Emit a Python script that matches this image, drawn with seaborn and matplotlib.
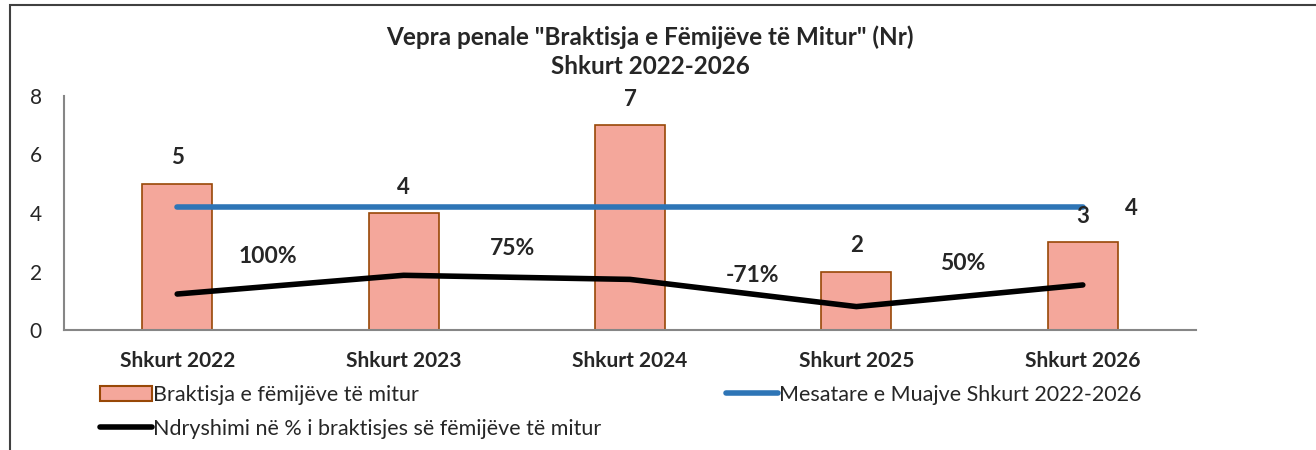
import numpy as np
import matplotlib
matplotlib.use("Agg")
import matplotlib.pyplot as plt
import seaborn as sns
from matplotlib.patches import Patch, Rectangle
from matplotlib.lines import Line2D

# data
categories = ["Shkurt 2022", "Shkurt 2023", "Shkurt 2024", "Shkurt 2025", "Shkurt 2026"]
cases = [5, 4, 7, 2, 3]
monthly_mean = [4.2, 4.2, 4.2, 4.2, 4.2]
change_line = [1.23, 1.87, 1.73, 0.80, 1.54]
change_labels = ["100%", "75%", "-71%", "50%"]
change_label_x = [0.40, 1.48, 2.54, 3.47]
change_label_y = [2.50, 2.77, 1.85, 2.29]

bar_fill = "#F4A79B"
bar_edge = "#984807"
mean_color = "#2E75B6"

sns.set_style("white")
plt.rcParams["font.family"] = ["Lato", "DejaVu Sans"]

fig = plt.figure(figsize=(13.16, 4.5), dpi=100)
ax = fig.add_axes([64 / 1316, 1 - 330 / 450, (1196 - 64) / 1316, (330 - 96) / 450])

x = np.arange(len(categories))
sns.barplot(x=x, y=cases, ax=ax, color=bar_fill, width=0.31,
            edgecolor=bar_edge, linewidth=1.2, saturation=1)
sns.lineplot(x=x, y=monthly_mean, ax=ax, color=mean_color, linewidth=4)
sns.lineplot(x=x, y=change_line, ax=ax, color="black", linewidth=4)

# value labels on bars
ax.bar_label(ax.containers[0], labels=[str(v) for v in cases], padding=11,
             fontsize=16, fontweight="bold")
ax.annotate(f"{monthly_mean[-1]:.0f}", (x[-1], monthly_mean[-1]), xytext=(35, -1),
            textcoords="offset points", ha="center", va="center",
            fontsize=16, fontweight="bold")
for lx, ly, txt in zip(change_label_x, change_label_y, change_labels):
    ax.text(lx, ly, txt, ha="center", va="center", fontsize=16.5, fontweight="bold")

ax.set_xlim(-0.5, len(categories) - 0.5)
ax.set_ylim(0, 8)
ax.set_yticks([0, 2, 4, 6, 8])
ax.set_xticks(x)
ax.set_xticklabels(categories, fontweight="bold", fontsize=15)
ax.set_xticks(np.arange(-0.5, len(categories)), minor=True)
ax.tick_params(axis="x", which="major", length=0, pad=15)
ax.tick_params(axis="x", which="minor", length=6, color="#868686", width=1.2, direction="out")
ax.tick_params(axis="y", length=6, color="#868686", width=1.2, direction="out", pad=10,
               labelsize=15)
for side in ["top", "right"]:
    ax.spines[side].set_visible(False)
for side in ["left", "bottom"]:
    ax.spines[side].set_color("#868686")
    ax.spines[side].set_linewidth(1.5)
ax.set_xlabel("")
ax.set_ylabel("")

fig.text(650 / 1316, 1 - 37 / 450, 'Vepra penale "Braktisja e Fëmijëve të Mitur" (Nr)',
         ha="center", va="center", fontsize=17.5, fontweight="bold")
fig.text(650 / 1316, 1 - 67 / 450, "Shkurt 2022-2026",
         ha="center", va="center", fontsize=17.5, fontweight="bold")

handles = [
    Patch(facecolor=bar_fill, edgecolor=bar_edge, linewidth=1.5),
    Line2D([], [], color="black", linewidth=4),
    Line2D([], [], color=mean_color, linewidth=4),
]
labels = [
    "Braktisja e fëmijëve të mitur",
    "Ndryshimi në % i braktisjes së fëmijëve të mitur",
    "Mesatare e Muajve Shkurt 2022-2026",
]
fig.legend(handles, labels, loc="upper left", bbox_to_anchor=(100 / 1316, 1 - 385 / 450),
           ncol=2, frameon=False, fontsize=15.5, handlelength=2.4, handletextpad=0.05,
           columnspacing=5.8, labelspacing=0.65, borderaxespad=0, borderpad=0)

fig.add_artist(Rectangle((10 / 1316, -0.1), 1.2, 1.1 - 5 / 450, transform=fig.transFigure,
                         fill=False, edgecolor="#404040", linewidth=1.5))

fig.savefig("out.png", dpi=100)
